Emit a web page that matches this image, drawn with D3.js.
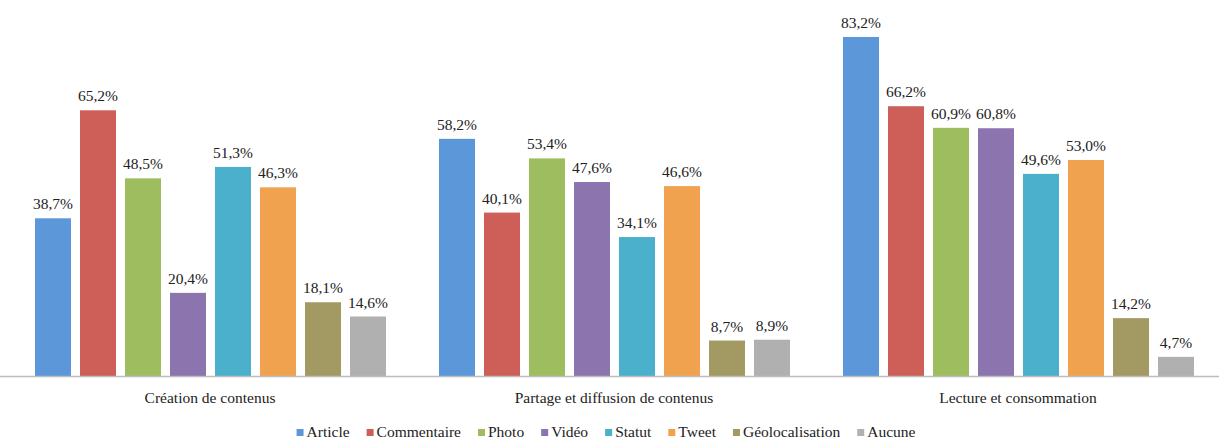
<!DOCTYPE html>
<html>
<head>
<meta charset="utf-8">
<script src="https://cdn.jsdelivr.net/npm/d3@7/dist/d3.min.js"></script>
<style>
  html, body { margin: 0; padding: 0; background: #fff; }
</style>
</head>
<body>
<div id="chart"></div>
<script>
// categories (groups on the x axis)
const categories = ["Création de contenus", "Partage et diffusion de contenus", "Lecture et consommation"];

// series names and colours
const series = ["Article", "Commentaire", "Photo", "Vidéo", "Statut", "Tweet", "Géolocalisation", "Aucune"];
const colors = ["#5b97d9", "#cd5f58", "#9dbd5e", "#8c74ae", "#4bb0cb", "#f0a24f", "#a39a63", "#b0b0b0"];

// values in %, one array per category, in series order
const creation  = [38.7, 65.2, 48.5, 20.4, 51.3, 46.3, 18.1, 14.6];
const partage   = [58.2, 40.1, 53.4, 47.6, 34.1, 46.6, 8.7, 8.9];
const lecture   = [83.2, 66.2, 60.9, 60.8, 49.6, 53.0, 14.2, 4.7];
const values = [creation, partage, lecture];

const W = 1219, H = 442;
const baseY = 376;
const FONT = "'Liberation Serif', 'Times New Roman', Times, 'DejaVu Serif', serif";
const FS = "15.5px";

const svg = d3.select("#chart").append("svg")
    .attr("width", W)
    .attr("height", H)
    .attr("font-family", FONT);

const x0 = d3.scaleBand()
    .domain(categories)
    .range([8, 1220])
    .padding(0);

const x1 = d3.scaleBand()
    .domain(series)
    .range([27, x0.bandwidth() - 26])
    .paddingInner(0.2)
    .paddingOuter(0);

const y = d3.scaleLinear()
    .domain([0, 90])
    .range([baseY, baseY - 90 * 4.075]);

const fmt = v => d3.format(".1f")(v).replace(".", ",") + "%";

const data = [];
categories.forEach(function(c, ci) {
    series.forEach(function(s, si) {
        data.push({cat: c, key: s, idx: si, value: values[ci][si]});
    });
});

// bars
svg.selectAll(".bar")
    .data(data)
    .enter().append("rect")
    .attr("class", "bar")
    .attr("x", d => x0(d.cat) + x1(d.key))
    .attr("y", d => y(d.value))
    .attr("width", x1.bandwidth())
    .attr("height", d => baseY - y(d.value))
    .attr("fill", d => colors[d.idx]);

// value labels
svg.selectAll(".val")
    .data(data)
    .enter().append("text")
    .attr("class", "val")
    .attr("x", d => x0(d.cat) + x1(d.key) + x1.bandwidth() / 2)
    .attr("y", d => y(d.value) - 9)
    .attr("text-anchor", "middle")
    .attr("font-family", FONT)
    .attr("fill", "#222")
    .style("font-size", FS)
    .text(d => fmt(d.value));

// x axis baseline
svg.append("line")
    .attr("x1", 0).attr("x2", W)
    .attr("y1", baseY + 0.5).attr("y2", baseY + 0.5)
    .attr("stroke", "#bdbdbd")
    .attr("stroke-width", 1.5);

// category labels
svg.selectAll(".cat")
    .data(categories)
    .enter().append("text")
    .attr("class", "cat")
    .attr("x", d => x0(d) + x0.bandwidth() / 2)
    .attr("y", 403)
    .attr("text-anchor", "middle")
    .attr("font-family", FONT)
    .attr("fill", "#222")
    .style("font-size", FS)
    .text(d => d);

// legend
const legend = svg.append("g").attr("class", "legend");
const items = legend.selectAll(".item")
    .data(series)
    .enter().append("g")
    .attr("class", "item");

items.append("rect")
    .attr("width", 7).attr("height", 7)
    .attr("y", 429)
    .attr("fill", (d, i) => colors[i]);

items.append("text")
    .attr("x", 10)
    .attr("y", 437)
    .attr("font-family", FONT)
    .attr("fill", "#222")
    .style("font-size", FS)
    .text(d => d);

let pos = 0;
const gap = 17;
items.each(function() {
    const g = d3.select(this);
    const w = 10 + g.select("text").node().getComputedTextLength();
    g.attr("transform", "translate(" + pos + ",0)");
    pos += w + gap;
});
const totalW = pos - gap;
legend.attr("transform", "translate(" + (606 - totalW / 2) + ",0)");
</script>
</body>
</html>
